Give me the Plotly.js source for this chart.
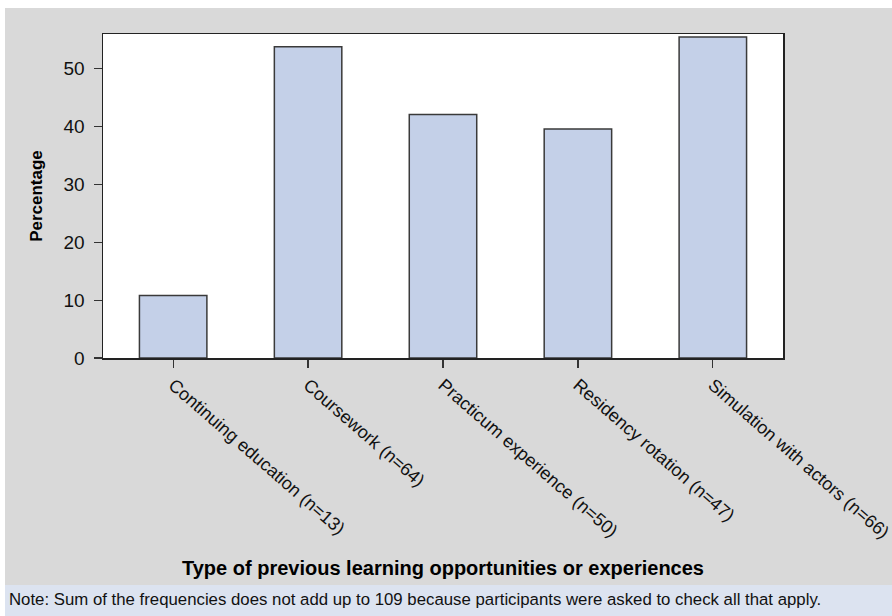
<!DOCTYPE html>
<html><head><meta charset="utf-8">
<script src="https://cdn.plot.ly/plotly-3.0.1.min.js"></script>
<style>html,body{margin:0;padding:0;background:#fff}</style>
</head><body>
<div id="chart" style="width:892px;height:616px"></div>
<script>
const categories = ["Continuing education (n=13)","Coursework (n=64)","Practicum experience (n=50)","Residency rotation (n=47)","Simulation with actors (n=66)"];
const percentages = [10.8, 53.8, 42.1, 39.6, 55.5];
const yTicks = [0, 10, 20, 30, 40, 50];
const noteText = "Note: Sum of the frequencies does not add up to 109 because participants were asked to check all that apply.";

const W = 892, H = 616, L = 103, R = 109, T = 34, B = 258;
const pw = W - L - R, ph = H - T - B;
const px = x => (x - L) / pw;
const py = y => (H - B - y) / ph;
const font = "Liberation Sans, Arial, sans-serif";

const trace = {
  type: "bar",
  x: categories,
  y: percentages,
  width: 0.5,
  marker: {color: "#c4d0e8", line: {color: "#3a3a3a", width: 1.5}},
  hoverinfo: "x+y"
};

const layout = {
  width: W, height: H,
  margin: {l: L, r: R, t: T, b: B, pad: 0},
  paper_bgcolor: "#d9d9d9",
  plot_bgcolor: "#ffffff",
  showlegend: false,
  font: {family: font, color: "#000", size: 18},
  xaxis: {
    type: "category",
    range: [-0.52, 4.52],
    tickangle: 41,
    ticks: "outside", ticklen: 8, tickcolor: "#333", tickwidth: 1.2,
    showline: true, mirror: true, linecolor: "#222", linewidth: 1.5,
    showgrid: false, zeroline: false, automargin: false,
    tickfont: {family: font, size: 18, color: "#111"},
    title: {text: "Type of previous learning opportunities or experiences", standoff: 19,
            font: {family: font, size: 20, color: "#000", weight: "bold"}}
  },
  yaxis: {
    range: [0, 56],
    tickvals: yTicks,
    ticks: "outside", ticklen: 8, tickcolor: "#333", tickwidth: 1.2,
    showline: true, mirror: true, linecolor: "#222", linewidth: 1.5,
    showgrid: false, zeroline: false, automargin: false,
    ticklabelstandoff: 5,
    tickfont: {family: font, size: 19, color: "#111"},
    title: {text: "Percentage", standoff: 16,
            font: {family: font, size: 17, color: "#000", weight: "bold"}}
  },
  shapes: [
    {type: "rect", xref: "paper", yref: "paper", x0: px(0), x1: px(W), y0: py(8), y1: py(0),
     fillcolor: "#ffffff", line: {width: 0}},
    {type: "rect", xref: "paper", yref: "paper", x0: px(0), x1: px(5), y0: py(H), y1: py(0),
     fillcolor: "#ffffff", line: {width: 0}},
    {type: "rect", xref: "paper", yref: "paper", x0: px(5), x1: px(W), y0: py(H), y1: py(585),
     fillcolor: "#dce3f0", line: {width: 0}}
  ],
  annotations: [
    {text: noteText, xref: "paper", yref: "paper", x: px(7), y: py(599),
     xanchor: "left", yanchor: "middle", showarrow: false,
     font: {family: font, size: 16.8, color: "#111"}}
  ]
};

Plotly.newPlot("chart", [trace], layout, {displayModeBar: false, staticPlot: true});
</script>
</body></html>
